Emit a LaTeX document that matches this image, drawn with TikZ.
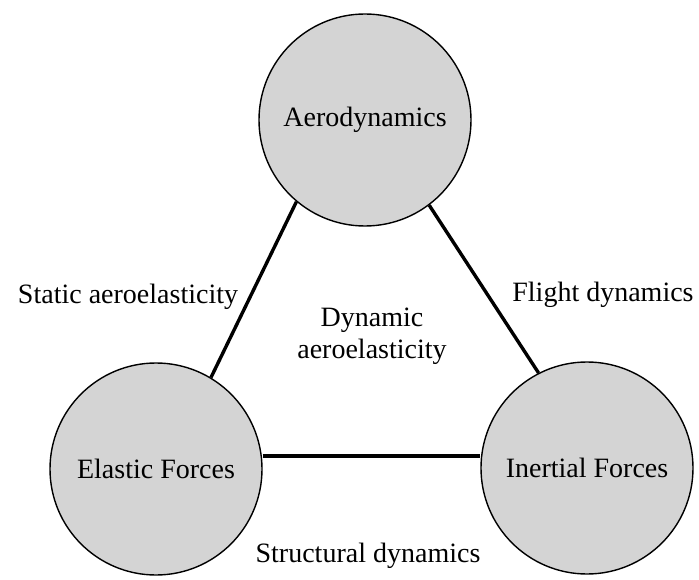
\documentclass[tikz,border=0pt]{standalone}
\usepackage{fontspec}
\setmainfont{Liberation Serif}
\begin{document}
\begin{tikzpicture}[x=1pt,y=-1pt,
  field/.style={circle,draw=black,line width=1.4pt,fill=black!17,
    minimum size=212pt,inner sep=0pt,font=\fontsize{28}{32}\selectfont},
  link/.style={line width=3.4pt},
  caption/.style={font=\fontsize{28}{32}\selectfont,align=center,inner sep=0pt}]
\useasboundingbox (0,0) rectangle (699,580);
% the three disciplines
\node[field] (ae) at (365,120) {Aerodynamics};
\node[field] (el) at (156,469) {Elastic Forces};
\node[field] (in) at (587,468) {Inertial Forces};
% couplings between them
\draw[link] (ae.230) -- (el.59);
\draw[link] (ae.307) -- (in.117);
\draw[link] ([yshift=13pt]el.east) -- ([yshift=12pt]in.west);
% names of the coupled fields
\node[caption] (st) at (128,297) {Static aeroelasticity};
\node[caption] (fl) at (603,295) {Flight dynamics};
\node[caption] (dy) at (372,336) {Dynamic\\aeroelasticity};
\node[caption] (sd) at (368,556) {Structural dynamics};
\end{tikzpicture}
\end{document}
